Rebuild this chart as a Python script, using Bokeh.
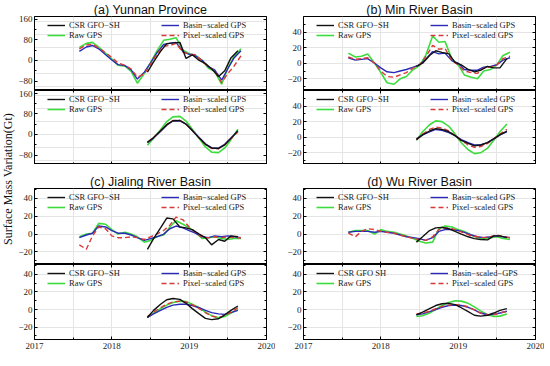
import math
from bokeh.plotting import figure
from bokeh.models import Range1d, FixedTicker, LinearAxis, Legend, LegendItem, Label
from bokeh.layouts import row, column
from bokeh.embed import file_html
from bokeh.resources import INLINE

# ---------------- data ----------------
t_gps = [2017.58, 2017.67, 2017.75, 2017.83, 2017.92, 2018.00, 2018.08, 2018.17, 2018.25,
         2018.33, 2018.42, 2018.50, 2018.58, 2018.67, 2018.75, 2018.83, 2018.92, 2019.00,
         2019.08, 2019.17, 2019.25, 2019.33, 2019.42, 2019.50, 2019.58, 2019.67]
t_csr = [2018.46, 2018.54, 2018.63, 2018.71, 2018.79, 2018.88, 2018.96, 2019.04,
         2019.13, 2019.21, 2019.29, 2019.38, 2019.46, 2019.54, 2019.63]
x_ticks = [2017, 2018, 2019, 2020]

# (a) Yunnan Province
a_raw = [50, 66, 70, 52, 28, 5, -18, -22, -42, -88, -50, -8, 35, 78, 82, 88, 40, 26, 20, 0, -30, -42, -92, -30, 15, 45]
a_basin = [35, 52, 58, 45, 22, 2, -16, -20, -36, -72, -45, -10, 28, 62, 66, 70, 34, 24, 18, 0, -25, -36, -76, -32, 10, 38]
a_pixel = [45, 60, 63, 48, 30, 12, -10, -18, -33, -64, -52, -15, 24, 55, 58, 66, 32, 25, 22, -3, -25, -40, -86, -50, -22, 18]
a_csr = [-45, -5, 35, 65, 68, 70, 8, 22, 0, -12, -32, -62, -40, 10, 38]
a_fit_csr = [-30, -12, 14, 38, 53, 54, 40, 15, -14, -38, -52, -54, -40, -15, 15]
a_fit_raw = [-42, -14, 18, 50, 68, 70, 52, 20, -16, -48, -68, -70, -52, -20, 20]
a_fit_basin = [-32, -14, 12, 36, 52, 53, 40, 16, -12, -36, -52, -53, -38, -14, 12]
a_fit_pixel = [-30, -12, 14, 38, 54, 55, 40, 15, -14, -38, -54, -55, -40, -16, 10]

# (b) Min River Basin
b_raw = [13, 8, 9, 12, 0, -12, -25, -27, -20, -17, -8, -3, 10, 35, 27, 28, 5, -2, -15, -18, -20, -10, -8, -2, 10, 14]
b_basin = [7, 4, 5, 6, 0, -6, -11, -12, -10, -8, -5, -2, 5, 15, 12, 13, 3, 0, -8, -9, -9, -5, -4, -2, 4, 7]
b_pixel = [8, 5, 6, 7, 0, -10, -17, -18, -15, -12, -6, -2, 8, 23, 18, 19, 3, -2, -10, -12, -13, -6, -5, -2, 6, 9]
b_csr = [-4, 0, 10, 16, 14, 12, 1, -2, -8, -11, -9, -4, -6, -6, 6]
b_fit_csr = [-3, 3, 8, 11, 10, 7, 2, -4, -8, -11, -10, -7, -2, 3, 8]
b_fit_raw = [-4, 7, 16, 21, 20, 14, 4, -7, -16, -21, -20, -14, -4, 7, 17]
b_fit_basin = [-2, 3, 7, 10, 9, 6, 2, -3, -7, -10, -10, -7, -2, 3, 7]
b_fit_pixel = [-3, 4, 10, 13, 12, 8, 2, -4, -10, -13, -12, -8, -2, 4, 10]

# (c) Jialing River Basin
c_raw = [-3, 0, 1, 12, 11, 5, 0, 2, 0, -3, -9, -7, -3, -1, 8, 15, 11, 7, 2, -5, -4, -3, -5, -6, -5, -5]
c_basin = [-4, -1, 1, 9, 8, 4, 1, 1, -1, -4, -7, -5, -3, 0, 6, 9, 7, 4, 1, -3, -4, -2, -3, -2, -3, -4]
c_pixel = [-12, -17, -2, 8, 6, -2, -4, -4, -3, -4, -6, -3, 0, 4, 10, 19, 16, 8, 2, -4, -4, -3, -4, -3, -4, -4]
c_csr = [-17, -5, 7, 18, 17, 8, 7, 5, 0, -4, -12, -6, -8, -2, -3]
c_fit_csr = [-9, -1, 6, 11, 12.5, 11.5, 7, 1, -5, -10, -11.5, -10.5, -6, -1, 4]
c_fit_raw = [-9, -4, 1, 5, 8, 9.5, 9, 6, 2, -3, -7, -9.5, -8, -4, 0]
c_fit_basin = [-9, -5, -1, 2.5, 5, 6, 6, 4.5, 2, -1, -3.5, -5, -5.5, -3.5, -1]
c_fit_pixel = [-8, -3, 2, 6, 8.5, 9.5, 8.5, 5.5, 1, -3.5, -7.5, -9, -7, -3, 2]

# (d) Wu River Basin
d_raw = [2, 4, 4, 4, 0, 5, 3, 2, 0, -2, -5, -8, -10, -9, 6, 9, 8, 5, 3, -1, -4, -5, -4, -3, -5, -6]
d_basin = [2, 3, 3, 3, 2, 3, 2, 1, -1, -3, -4, -5, -7, -4, 3, 5, 5, 4, 2, -1, -3, -4, -3, -2, -3, -4]
d_pixel = [1, -3, 3, 6, 5, 3, 2, 1, -1, -3, -5, -6, -7, -3, 5, 7, 6, 4, 1, -2, -3, -4, -3, -1, -3, -4]
d_csr = [-9, -3, 4, 7, 7.5, 6, 3, 0, -3, -5, -6, -6.5, -2, -2, -4]
d_fit_csr = [-6, -3, 1, 4.5, 6.5, 7, 5.5, 2, -2.5, -6.5, -7.5, -6.5, -4, -1, 1]
d_fit_raw = [-8, -7, -4, 0, 4.5, 8, 10, 9.5, 7, 3, -1.5, -6, -8, -7.5, -5]
d_fit_basin = [-6, -5, -2.5, 0, 2.5, 4.5, 5, 4.5, 2.5, -0.5, -4, -6, -5.5, -4, -2]
d_fit_pixel = [-5, -4, -2, 1, 3.5, 5, 5.5, 5, 3, -0.5, -4, -6, -6, -4, -2]

titles = ["(a) Yunnan Province", "(b) Min River Basin", "(c) Jialing River Basin", "(d) Wu River Basin"]
legend_std = ["CSR GFO\u2212SH", "Raw GPS", "Basin\u2212scaled GPS", "Pixel\u2212scaled GPS"]
legend_d_fit = ["CSR GFO SH", "Raw GPS", "Basin\u2212scaled\u2212GPS", "Pixel\u2212scaled GPS"]
y_label = "Surface Mass Variation(Gt)"

# ---------------- style ----------------
GREEN = "#3ddc3d"
BLUE = "#2a2ab8"
RED = "#d83a3a"
BLACK = "#111111"
SERIF = "Liberation Serif"
SANS = "Liberation Sans"
FW = 232


def style_axis(ax, labels, standoff=2):
    ax.major_tick_in = 3
    ax.major_tick_out = 0
    ax.minor_tick_in = 2
    ax.minor_tick_out = 0
    ax.axis_line_color = "black"
    ax.major_tick_line_color = "black"
    ax.minor_tick_line_color = "black"
    if labels:
        ax.major_label_text_font = SERIF
        ax.major_label_text_font_size = "9px"
        ax.major_label_text_color = "#222222"
        ax.major_label_standoff = standoff
    else:
        ax.major_label_text_font_size = "0px"
        ax.major_label_text_alpha = 0
        ax.major_label_standoff = 0


def make_fig(yr, yt, ym, fh, top, bottom, left, right, title, xlabels,
             ts, raw, basin, pixel, csr, tc, names):
    p = figure(frame_width=FW, frame_height=fh,
               x_range=Range1d(2017, 2020), y_range=Range1d(*yr),
               output_backend="svg", toolbar_location=None,
               x_axis_location=None, y_axis_location=None,
               min_border_left=left, min_border_right=right,
               min_border_top=top, min_border_bottom=bottom,
               title=title)
    if title:
        p.title.text_font = SANS
        p.title.text_font_size = "12.5px"
        p.title.text_font_style = "normal"
        p.title.align = "center"
        p.title.standoff = 0
        p.title.offset = 0
        p.title.text_color = "#111111"
    p.outline_line_color = "black"
    p.outline_line_width = 1
    p.background_fill_color = "white"
    p.border_fill_color = "white"

    xt = FixedTicker(ticks=x_ticks, minor_ticks=[2017.5, 2018.5, 2019.5])
    sides = ("below",) if title else ("below", "above")
    for side in sides:
        ax = LinearAxis(ticker=xt)
        style_axis(ax, labels=(xlabels and side == "below"), standoff=3)
        p.add_layout(ax, side)
    ytk = FixedTicker(ticks=yt, minor_ticks=ym)
    for side in ("left", "right"):
        ax = LinearAxis(ticker=ytk)
        style_axis(ax, labels=(side == "left"), standoff=2)
        p.add_layout(ax, side)

    r_raw = p.line(ts, raw, line_color=GREEN, line_width=1.6)
    r_basin = p.line(ts, basin, line_color=BLUE, line_width=1.4)
    r_pixel = p.line(ts, pixel, line_color=RED, line_width=1.4, line_dash="5 3")
    r_csr = p.line(tc, csr, line_color=BLACK, line_width=1.4)

    common = dict(glyph_width=18, glyph_height=8, label_height=8, label_standoff=4,
                  spacing=0, padding=0, margin=0, border_line_alpha=0,
                  background_fill_alpha=0, label_text_font=SERIF,
                  label_text_font_size="8.5px", label_text_color="#222222")
    leg1 = Legend(items=[LegendItem(label=names[0], renderers=[r_csr]),
                         LegendItem(label=names[1], renderers=[r_raw])],
                  location=(13, fh - 24), **common)
    leg2 = Legend(items=[LegendItem(label=names[2], renderers=[r_basin]),
                         LegendItem(label=names[3], renderers=[r_pixel])],
                  location=(127, fh - 24), **common)
    p.add_layout(leg1)
    p.add_layout(leg2)
    return p


A_R = (-116, 170)
A_T = [-80, 0, 80, 160]
A_M = [-120, -40, 40, 120]
B_R = (-35, 60)
S_T = [-20, 0, 20, 40]
S_M = [-30, -10, 10, 30, 50]
C_R = (-34, 51)

LL, LR = 14, 9
RL, RR = 28, 9

pa1 = make_fig(A_R, A_T, A_M, 74, 14, 0, LL, LR, titles[0], False,
               t_gps, a_raw, a_basin, a_pixel, a_csr, t_csr, legend_std)
pa2 = make_fig(A_R, A_T, A_M, 74, 0, 0, LL, LR, None, False,
               t_csr, a_fit_raw, a_fit_basin, a_fit_pixel, a_fit_csr, t_csr, legend_std)
pc1 = make_fig(C_R, S_T, S_M, 76, 24, 0, LL, LR, titles[2], False,
               t_gps, c_raw, c_basin, c_pixel, c_csr, t_csr, legend_std)
pc2 = make_fig(C_R, S_T, S_M, 75, 0, 14, LL, LR, None, True,
               t_csr, c_fit_raw, c_fit_basin, c_fit_pixel, c_fit_csr, t_csr, legend_std)

pb1 = make_fig(B_R, S_T, S_M, 74, 14, 0, RL, RR, titles[1], False,
               t_gps, b_raw, b_basin, b_pixel, b_csr, t_csr, legend_std)
pb2 = make_fig(B_R, S_T, S_M, 74, 0, 0, RL, RR, None, False,
               t_csr, b_fit_raw, b_fit_basin, b_fit_pixel, b_fit_csr, t_csr, legend_std)
pd1 = make_fig(C_R, S_T, S_M, 76, 24, 0, RL, RR, titles[3], False,
               t_gps, d_raw, d_basin, d_pixel, d_csr, t_csr, legend_std)
pd2 = make_fig(C_R, S_T, S_M, 75, 0, 14, RL, RR, None, True,
               t_csr, d_fit_raw, d_fit_basin, d_fit_pixel, d_fit_csr, t_csr, legend_d_fit)

lab = figure(width=15, height=350, x_range=Range1d(0, 1), y_range=Range1d(0, 1),
             output_backend="svg", toolbar_location=None,
             x_axis_location=None, y_axis_location=None, min_border=0, title=None)
lab.outline_line_color = None
lab.grid.visible = False
lab.add_layout(Label(x=0.5, y=0.49, text=y_label, angle=math.pi / 2,
                     text_align="center", text_baseline="middle",
                     text_font=SERIF, text_font_size="12px", text_color="#111111"))

layout = row(lab, column(pa1, pa2, pc1, pc2), column(pb1, pb2, pd1, pd2))

open("out.html", "w").write(file_html(layout, INLINE))
